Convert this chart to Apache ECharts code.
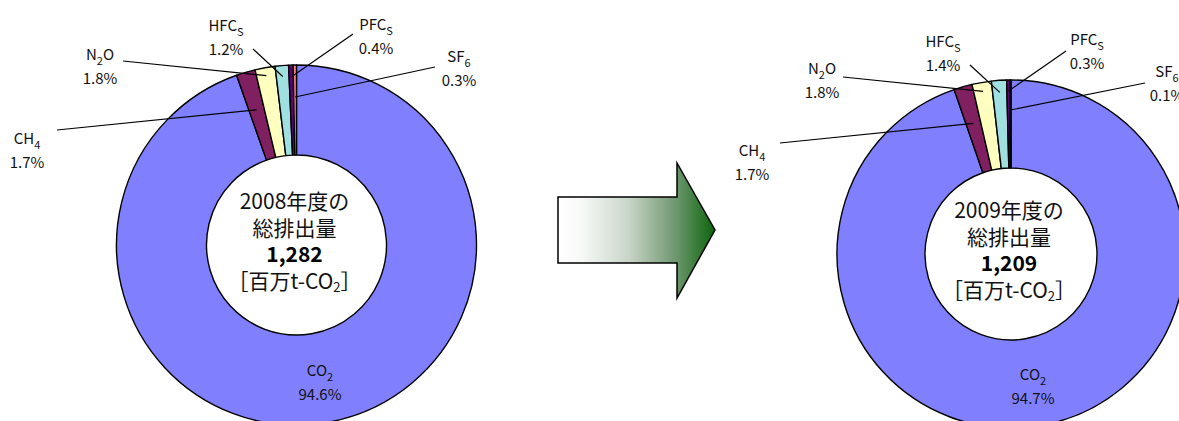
<!DOCTYPE html>
<html>
<head>
<meta charset="utf-8">
<script src="https://cdn.jsdelivr.net/npm/echarts@6/dist/echarts.min.js"></script>
<style>
  html, body { margin: 0; padding: 0; background: #ffffff; }
  #chart { width: 1179px; height: 421px; }
</style>
</head>
<body>
<div id="chart"></div>
<script>
// Greenhouse gas shares of Japan's total emissions, fiscal 2008 and 2009
const gases = ['CO{s|2}', 'CH{s|4}', 'N{s|2}O', 'HFC{s|S}', 'PFC{s|S}', 'SF{s|6}'];
const share2008 = [94.6, 1.7, 1.8, 1.2, 0.4, 0.3];
const share2009 = [94.7, 1.7, 1.8, 1.4, 0.3, 0.1];
const years = ['2008', '2009'];
const totals = ['1,282', '1,209'];
const gasColors = ['#8080ff', '#802060', '#ffffc0', '#a0e0e0', '#600080', '#ff8080'];

const FONT = '"Noto Sans CJK JP", "Noto Sans", sans-serif';

// ring geometry for each year
const rings = [
  { center: [296.5, 245], inner: 90, outer: 180 },
  { center: [1011, 254], inner: 86, outer: 174 }
];

// label placement: text centre, leader start, and the radius where the leader meets the ring
const labelPlaces = [
  [
    { label: [320, 381] },
    { label: [27, 149], from: [57, 130], r: 141 },
    { label: [100, 65], from: [123, 61], r: 172 },
    { label: [226, 36], from: [253, 49], r: 169 },
    { label: [376, 35], from: [353, 34], r: 168 },
    { label: [459, 67], from: [435, 67], r: 148 }
  ],
  [
    { label: [1033, 385] },
    { label: [752, 161], from: [780, 143], r: 136 },
    { label: [822, 79], from: [843, 77], r: 165 },
    { label: [943, 52], from: [970, 65], r: 162 },
    { label: [1087, 50], from: [1066, 51], r: 163 },
    { label: [1167, 82], from: [1145, 83], r: 144 }
  ]
];

// angle (radians, clockwise from 12 o'clock) at the middle of a slice
function midAngle(values, idx) {
  const total = values.reduce((a, b) => a + b, 0);
  let before = 0;
  for (let i = 0; i < idx; i++) before += values[i];
  return ((before + values[idx] / 2) / total) * Math.PI * 2;
}

function makeLayout(places) {
  return function (p) {
    const place = places[p.dataIndex];
    return { x: place.label[0], y: place.label[1], align: 'center', verticalAlign: 'middle' };
  };
}

function ringSeries(values, k) {
  const ring = rings[k];
  return {
    type: 'pie',
    silent: true,
    animation: false,
    center: ring.center,
    radius: [ring.inner, ring.outer],
    startAngle: 90,
    clockwise: true,
    avoidLabelOverlap: false,
    itemStyle: { borderColor: '#000000', borderWidth: 1.4 },
    label: {
      show: true,
      position: 'outside',
      color: '#111111',
      fontFamily: FONT,
      fontSize: 15,
      lineHeight: 24,
      align: 'center',
      formatter: p => p.name + '\n' + p.value.toFixed(1) + '%',
      rich: {
        s: { fontFamily: FONT, fontSize: 11, color: '#111111', verticalAlign: 'bottom', lineHeight: 21 }
      }
    },
    labelLine: { show: false },
    labelLayout: makeLayout(labelPlaces[k]),
    data: values.map((v, i) => ({
      name: gases[i],
      value: v,
      itemStyle: { color: gasColors[i] }
    }))
  };
}

// leader lines from each label to the middle of its slice
function leaderLines(values, k) {
  const ring = rings[k];
  return labelPlaces[k]
    .map((place, i) => {
      if (!place.from) return null;
      const a = midAngle(values, i);
      const end = [ring.center[0] + place.r * Math.sin(a), ring.center[1] - place.r * Math.cos(a)];
      return {
        type: 'polyline',
        silent: true,
        z: 10,
        shape: { points: [place.from, end] },
        style: { stroke: '#000000', lineWidth: 1.2, fill: null }
      };
    })
    .filter(Boolean);
}

function centreText(k) {
  const ring = rings[k];
  return {
    type: 'text',
    silent: true,
    z: 10,
    x: ring.center[0] - 2,
    y: ring.center[1] - 5,
    style: {
      text: years[k] + '年度の\n総排出量\n{b|' + totals[k] + '}\n［百万t-CO{s|2}］',
      fill: '#111111',
      fontFamily: FONT,
      fontSize: 21,
      lineHeight: 26.5,
      align: 'center',
      verticalAlign: 'middle',
      rich: {
        b: { fontFamily: FONT, fontSize: 21, fontWeight: 'bold', fill: '#000000', lineHeight: 26.5 },
        s: { fontFamily: FONT, fontSize: 13, fill: '#111111', verticalAlign: 'bottom', lineHeight: 19 }
      }
    }
  };
}

const chart = echarts.init(document.getElementById('chart'), null, { renderer: 'svg' });
chart.setOption({
  backgroundColor: '#ffffff',
  animation: false,
  series: [ringSeries(share2008, 0), ringSeries(share2009, 1)],
  graphic: [
    ...leaderLines(share2008, 0),
    ...leaderLines(share2009, 1),
    centreText(0),
    centreText(1),
    {
      type: 'polygon',
      silent: true,
      shape: {
        points: [[558, 197], [677, 197], [677, 163], [715, 230], [677, 298], [677, 263], [558, 263]]
      },
      style: {
        fill: {
          type: 'linear', x: 0, y: 0, x2: 1, y2: 0,
          colorStops: [
            { offset: 0, color: '#ffffff' },
            { offset: 0.15, color: '#f7f9f7' },
            { offset: 0.45, color: '#c9d5c9' },
            { offset: 0.75, color: '#6e976e' },
            { offset: 1, color: '#0b650b' }
          ]
        },
        stroke: '#000000',
        lineWidth: 1.5
      }
    }
  ]
});
</script>
</body>
</html>
